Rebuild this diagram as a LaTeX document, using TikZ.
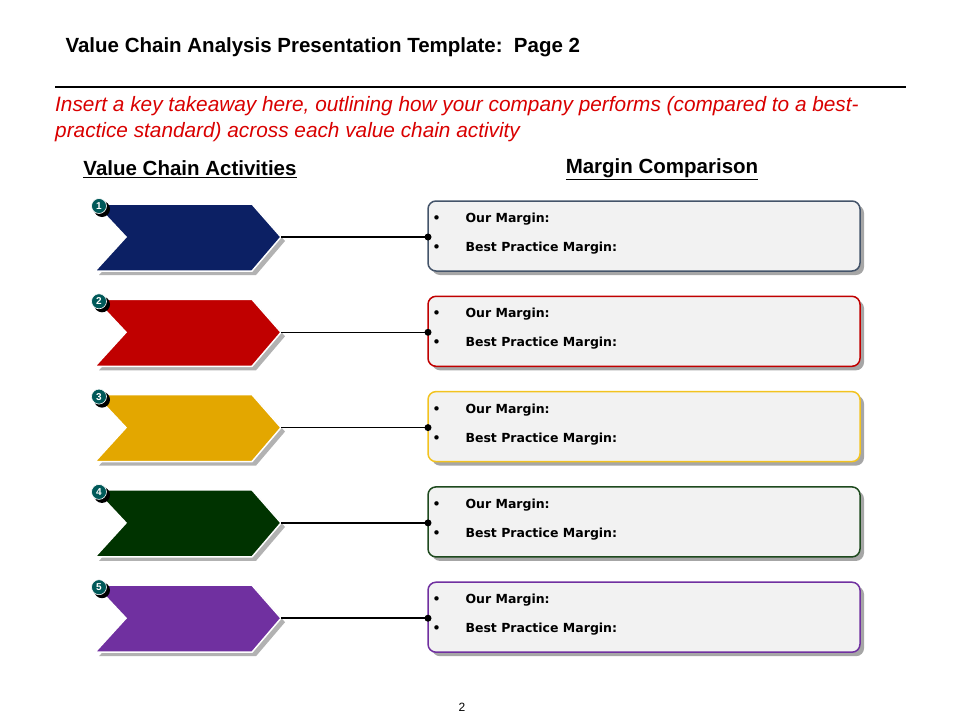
\documentclass[tikz,border=0pt]{standalone}
\usepackage{fontspec}
\setmainfont{Liberation Sans}
\newfontfamily\boxfont{DejaVu Sans}
\begin{document}
\begin{tikzpicture}[x=1pt,y=-1pt,
  chev/.style={draw=white,line width=1.5pt},
  mbox/.style={rounded corners=8pt,fill=gray!10,line width=1.5pt},
  badge/.style={circle,fill=teal!70!black,draw=white,line width=0.6pt,minimum size=15pt,inner sep=0pt,text=white,font=\bfseries\fontsize{10}{10}\selectfont},
  btxt/.style={anchor=west,font=\boxfont\bfseries\fontsize{12.5}{14}\selectfont,align=left}]
\useasboundingbox (0,0) rectangle (960,720);
\node[anchor=west,font=\bfseries\fontsize{20.5}{24}\selectfont] (title) at (62,47) {Value Chain Analysis Presentation Template:\ \ Page 2};
\draw[line width=2.5pt] (55,87) coordinate (la) -- (906,87) coordinate (lb);
\node[anchor=north west,text=red!85!black,font=\itshape\fontsize{20.8}{26}\selectfont,align=left,inner sep=0pt] (take) at (55,96) {Insert a key takeaway here, outlining how your company performs (compared to a best-\\practice standard) across each value chain activity};
\node[font=\bfseries\fontsize{20.5}{24}\selectfont] (h1) at (190,169) {\underline{Value Chain Activities}};
\node[font=\bfseries\fontsize{20.5}{24}\selectfont] (h2) at (662,169) {\underline{Margin Comparison}};
\foreach \i/\c/\b [count=\n] in {0/0C2064/44546A,1/C00000/C00000,2/E3A700/F2C320,3/003300/1E4A1E,4/7030A0/7030A0}{
  \definecolor{cc}{HTML}{\c}\definecolor{bb}{HTML}{\b}
  \pgfmathsetmacro{\yc}{237+95.3*\i}
  \fill[black!30] (95+4,\yc-33+4) -- (252+4,\yc-33+4) -- (281+4,\yc+4) -- (252+4,\yc+34+4) -- (95+4,\yc+34+4) -- (126+4,\yc+4) -- cycle;
  \draw[chev,fill=cc] (95,\yc-33) -- (252,\yc-33) -- (281,\yc) coordinate (tip\n) -- (252,\yc+34) -- (95,\yc+34) -- (126,\yc) -- cycle;
  \fill[black!35,rounded corners=8pt] (432,\yc-32) rectangle (864,\yc+38);
  \draw[mbox,draw=bb] (428,\yc-36) rectangle (860,\yc+34);
  \coordinate (dot\n) at (428,\yc);
  \draw[line width=1.6pt] (tip\n) -- (dot\n);
  \fill (dot\n) circle (3.5pt);
  \node[btxt] (m\n) at (428,\yc-18) {\hspace{1pt}\textbullet\hspace{25pt}Our Margin:};
  \node[btxt] (p\n) at (428,\yc+11) {\hspace{1pt}\textbullet\hspace{25pt}Best Practice Margin:};
  \fill[black] (102,\yc-28) circle (8pt);
  \node[badge] (b\n) at (99,\yc-31) {\n};
}
\node[font=\fontsize{12}{14}\selectfont] (pg) at (462,707) {2};
\end{tikzpicture}
\end{document}
